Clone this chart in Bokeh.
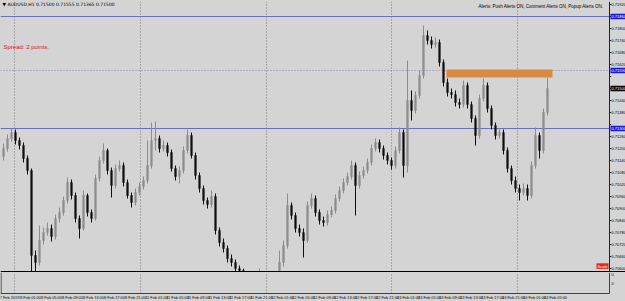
from bokeh.plotting import figure
from bokeh.models import Span, Label, Range1d, ColumnDataSource
from bokeh.core.properties import value
from bokeh.layouts import column
from bokeh.embed import file_html
from bokeh.resources import INLINE

# ---------------- data ----------------
first_open = 0.71160
close = [
    0.71200, 0.71250, 0.71280, 0.71240, 0.71215, 0.71150, 0.71090, 0.70665, 0.70630, 0.70740,
    0.70780, 0.70800, 0.70760, 0.70850, 0.70880, 0.70940, 0.71030, 0.70965, 0.70850, 0.70800,
    0.70965, 0.70880, 0.70850, 0.71050, 0.71140, 0.71190, 0.71090, 0.71015, 0.71100, 0.71115,
    0.71030, 0.70965, 0.70930, 0.70980, 0.71010, 0.71040, 0.71115, 0.71240, 0.71250, 0.71200,
    0.71215, 0.71180, 0.71100, 0.71060, 0.71090, 0.71190, 0.71265, 0.71165, 0.71065, 0.71000,
    0.70940, 0.70920, 0.70960, 0.70790, 0.70730, 0.70700, 0.70650, 0.70630, 0.70600, 0.70590,
    0.70540, 0.70500, 0.70490, 0.70510, 0.70550, 0.70515, 0.70480, 0.70500, 0.70540, 0.70630,
    0.70715, 0.70915, 0.70865, 0.70800, 0.70780, 0.70740, 0.70915, 0.70950, 0.70880, 0.70840,
    0.70830, 0.70870, 0.70890, 0.70950, 0.70990, 0.71030, 0.71060, 0.71115, 0.71015, 0.71065,
    0.71090, 0.71130, 0.71200, 0.71230, 0.71200, 0.71165, 0.71140, 0.71115, 0.71190, 0.71280,
    0.71115, 0.71440, 0.71390, 0.71465, 0.71565, 0.71765, 0.71740, 0.71720, 0.71730, 0.71630,
    0.71530, 0.71480, 0.71470, 0.71430, 0.71420, 0.71515, 0.71420, 0.71350, 0.71265, 0.71450,
    0.71515, 0.71400, 0.71315, 0.71265, 0.71280, 0.71190, 0.71100, 0.71040, 0.71000, 0.70980,
    0.71000, 0.70965, 0.71115, 0.71265, 0.71190, 0.71380, 0.71500,
]
high = [
    0.71225, 0.71270, 0.71300, 0.71295, 0.71255, 0.71230, 0.71165, 0.71100, 0.70690, 0.70815,
    0.70805, 0.70830, 0.70820, 0.70870, 0.70905, 0.70960, 0.71055, 0.71045, 0.70980, 0.70865,
    0.70990, 0.70975, 0.70895, 0.71070, 0.71160, 0.71225, 0.71200, 0.71105, 0.71120, 0.71140,
    0.71130, 0.71045, 0.70980, 0.71000, 0.71030, 0.71060, 0.71240, 0.71330, 0.71335, 0.71265,
    0.71240, 0.71230, 0.71195, 0.71115, 0.71110, 0.71210, 0.71295, 0.71280, 0.71180, 0.71080,
    0.71015, 0.70955, 0.70990, 0.70975, 0.70805, 0.70750, 0.70715, 0.70670, 0.70645, 0.70615,
    0.70600, 0.70555, 0.70520, 0.70530, 0.70600, 0.70565, 0.70530, 0.70520, 0.70560, 0.70690,
    0.70740, 0.70975, 0.70930, 0.70880, 0.70820, 0.70800, 0.70935, 0.70975, 0.70965, 0.70895,
    0.70860, 0.70890, 0.70910, 0.70970, 0.71010, 0.71050, 0.71080, 0.71140, 0.71130, 0.71085,
    0.71110, 0.71150, 0.71220, 0.71250, 0.71245, 0.71215, 0.71180, 0.71155, 0.71210, 0.71305,
    0.71295, 0.71640, 0.71490, 0.71485, 0.71590, 0.71815, 0.71790, 0.71760, 0.71755, 0.71745,
    0.71645, 0.71550, 0.71500, 0.71490, 0.71450, 0.71540, 0.71530, 0.71435, 0.71365, 0.71470,
    0.71550, 0.71530, 0.71415, 0.71330, 0.71300, 0.71295, 0.71205, 0.71115, 0.71060, 0.71020,
    0.71025, 0.71020, 0.71135, 0.71305, 0.71280, 0.71400, 0.71555,
]
low = [
    0.71140, 0.71185, 0.71235, 0.71220, 0.71195, 0.71130, 0.71070, 0.70580, 0.70540, 0.70615,
    0.70720, 0.70765, 0.70735, 0.70745, 0.70830, 0.70865, 0.70925, 0.70945, 0.70830, 0.70750,
    0.70790, 0.70860, 0.70830, 0.70840, 0.71035, 0.71125, 0.71070, 0.70955, 0.71000, 0.71085,
    0.71010, 0.70950, 0.70905, 0.70915, 0.70965, 0.70995, 0.71025, 0.71100, 0.71190, 0.71180,
    0.71185, 0.71160, 0.71085, 0.71040, 0.71025, 0.71075, 0.71175, 0.71150, 0.71045, 0.70980,
    0.70920, 0.70900, 0.70905, 0.70770, 0.70710, 0.70680, 0.70630, 0.70610, 0.70580, 0.70560,
    0.70515, 0.70480, 0.70470, 0.70475, 0.70495, 0.70495, 0.70460, 0.70465, 0.70485, 0.70525,
    0.70610, 0.70700, 0.70845, 0.70780, 0.70760, 0.70655, 0.70730, 0.70900, 0.70860, 0.70820,
    0.70810, 0.70815, 0.70855, 0.70875, 0.70935, 0.70975, 0.71015, 0.71045, 0.70865, 0.71000,
    0.71050, 0.71075, 0.71115, 0.71185, 0.71180, 0.71145, 0.71120, 0.71095, 0.71100, 0.71175,
    0.71055, 0.71080, 0.71340, 0.71375, 0.71450, 0.71550, 0.71720, 0.71700, 0.71705, 0.71610,
    0.71510, 0.71460, 0.71450, 0.71410, 0.71400, 0.71405, 0.71400, 0.71330, 0.71215, 0.71250,
    0.71435, 0.71380, 0.71295, 0.71245, 0.71250, 0.71170, 0.71080, 0.71020, 0.70980, 0.70940,
    0.70965, 0.70940, 0.70950, 0.71100, 0.71150, 0.71175, 0.71365,
]
open_ = [first_open] + close[:-1]

price_ticks = [round(0.70600 + 0.0006 * k, 5) for k in range(23)]
blue_lines = [0.71860, 0.71300]
dotted_level = 0.71590
bid_price = close[-1]
scale_level = 0.70612
zone_left, zone_right = 110.75, 137.25
zone_top, zone_bottom = 0.71595, 0.71555
day_starts = [2.75, 34.25, 65.75, 97.0, 128.5]
time_labels = ["7 Feb 2019", "8 Feb 01:00", "8 Feb 05:00", "8 Feb 09:00", "8 Feb 13:00",
               "8 Feb 17:00", "8 Feb 21:00", "11 Feb 01:00", "11 Feb 05:00", "11 Feb 09:00",
               "11 Feb 13:00", "11 Feb 17:00", "11 Feb 21:00", "12 Feb 01:00", "12 Feb 05:00",
               "12 Feb 09:00", "12 Feb 13:00", "12 Feb 17:00", "12 Feb 21:00", "13 Feb 01:00",
               "13 Feb 05:00", "13 Feb 09:00", "13 Feb 13:00", "13 Feb 17:00", "13 Feb 21:00",
               "14 Feb 01:00", "14 Feb 05:00"]
label_bars = [1.5 + 5.25 * k for k in range(len(time_labels))]

BG = "#d4d4d4"
AX_X = 151.5          # position of the price scale (bar units)
LBL_X = 152.0         # start of the price labels
FONT = value("Liberation Sans")

n = len(close)
idx = list(range(n))
bull = [c >= o for o, c in zip(open_, close)]
src = ColumnDataSource(dict(
    x=idx, h=high, l=low,
    top=[max(o, c) for o, c in zip(open_, close)],
    bot=[min(o, c) for o, c in zip(open_, close)],
    col=["#8c8c8c" if b else "#101010" for b in bull],
))

xr = Range1d(-0.75, 155.5)
y0, y1 = 0.70580, 0.71935

p1 = figure(frame_width=625, frame_height=271, x_range=xr, y_range=Range1d(y0, y1),
            output_backend="svg", toolbar_location=None, x_axis_location=None, y_axis_location=None,
            min_border_left=0, min_border_right=0, min_border_top=1, min_border_bottom=0,
            background_fill_color=BG, border_fill_color=BG, outline_line_color=None)
p1.xgrid.visible = False
p1.ygrid.visible = False

# day separators
p1.segment(x0=day_starts, x1=day_starts, y0=[y0] * len(day_starts), y1=[y1] * len(day_starts),
           line_color="#7a7a7a", line_width=1, line_dash="1 2")
# horizontal levels
p1.segment(x0=[-0.75] * 2, x1=[AX_X] * 2, y0=blue_lines, y1=blue_lines, line_color="#6e6ebe", line_width=1)
p1.segment(x0=[-0.75], x1=[AX_X], y0=[dotted_level], y1=[dotted_level], line_color="#8080b0",
           line_width=1, line_dash="1 2")

p1.quad(left=[zone_left], right=[zone_right], top=[zone_top], bottom=[zone_bottom],
        fill_color="#d98a42", line_color=None)

p1.segment(x0="x", x1="x", y0="l", y1="h", color="col", line_width=1, source=src)
p1.vbar(x="x", width=0.42, top="top", bottom="bot", fill_color="col", line_color="col",
        line_width=0.5, source=src)

# price scale
p1.segment(x0=[AX_X], x1=[AX_X], y0=[y0], y1=[y1], line_color="#202020", line_width=1)
p1.segment(x0=[AX_X] * len(price_ticks), x1=[AX_X + 0.45] * len(price_ticks), y0=price_ticks,
           y1=price_ticks, line_color="#202020", line_width=1)

hidden = [0.71860, 0.71500, 0.71320, 0.71560]
shown = [t for t in price_ticks if not any(abs(t - h_) < 1e-7 for h_ in hidden)]
p1.text(x=[LBL_X] * len(shown), y=shown, text=[f"{t:.5f}" for t in shown], text_font=FONT,
        text_font_size="4px", text_color="#000000", text_baseline="middle")

tags = [blue_lines[0], dotted_level, bid_price, blue_lines[1]]
tag_bg = ["#1a1ad8", "#1a1ad8", "#000000", "#1a1ad8"]
p1.quad(left=[AX_X + 0.25] * 4, right=[155.5] * 4, top=[t + 0.00014 for t in tags],
        bottom=[t - 0.00014 for t in tags], fill_color=tag_bg, line_color=None)
p1.text(x=[LBL_X] * 4, y=tags, text=[f"{t:.5f}" for t in tags], text_font=FONT,
        text_font_size="4px", text_color="#ffffff", text_baseline="middle")

p1.quad(left=[148.25], right=[151.25], top=[scale_level + 0.00014], bottom=[scale_level - 0.00014],
        fill_color="#e02a10", line_color=None)
p1.text(x=[148.5], y=[scale_level], text=["Scale"], text_font=FONT, text_font_size="4px",
        text_color="#ffffff", text_baseline="middle")

# separator between main window and sub window
p1.add_layout(Span(location=0.70582, dimension="width", line_color="#000000", line_width=2))

p1.add_layout(Label(x=2, y=0.71932,
                    text=f"▼ AUDUSD,H1  {close[-1]:.5f} {high[-1]:.5f} {low[-1]:.5f} {close[-1]:.5f}",
                    x_units="screen", text_font_size="4.5px", text_font="DejaVu Sans",
                    text_color="#000000", text_baseline="top"))
p1.add_layout(Label(x=3, y=0.71710, x_units="screen", text="Spread: 2 points.", text_font_size="6px",
                    text_font="Liberation Sans", text_color="#e01010", text_baseline="middle"))
p1.add_layout(Label(x=607, y=0.71925, x_units="screen",
                    text="Alerts:  Push Alerts ON,  Comment Alerts ON,  Popup Alerts ON.",
                    text_font_size="4.5px", text_font="Liberation Sans", text_color="#000000",
                    text_baseline="top", text_align="right"))

# ---------------- sub window + time scale ----------------
p2 = figure(frame_width=625, frame_height=29, x_range=xr, y_range=Range1d(0, 29),
            output_backend="svg", toolbar_location=None, x_axis_location=None, y_axis_location=None,
            min_border_left=0, min_border_right=0, min_border_top=0, min_border_bottom=0,
            background_fill_color=BG, border_fill_color=BG, outline_line_color=None)
p2.xgrid.visible = False
p2.ygrid.visible = False
p2.segment(x0=day_starts, x1=day_starts, y0=[8] * len(day_starts), y1=[29] * len(day_starts),
           line_color="#7a7a7a", line_width=1, line_dash="1 2")
p2.segment(x0=[-0.75, AX_X, -0.6], x1=[AX_X, AX_X, -0.6], y0=[8, 8, 8], y1=[8, 29, 29],
           line_color="#404040", line_width=1)
p2.text(x=label_bars, y=[4] * len(label_bars), text=time_labels, text_font=FONT,
        text_font_size="3.9px", text_color="#000000", text_baseline="middle", text_align="center")
p2.text(x=[LBL_X, LBL_X], y=[27, 18.5], text=["0", "0"], text_font=FONT, text_font_size="4px",
        text_color="#000000", text_baseline="middle")

layout = column(p1, p2, spacing=0, styles={"background-color": BG})
open("out.html", "w").write(file_html(layout, INLINE))
